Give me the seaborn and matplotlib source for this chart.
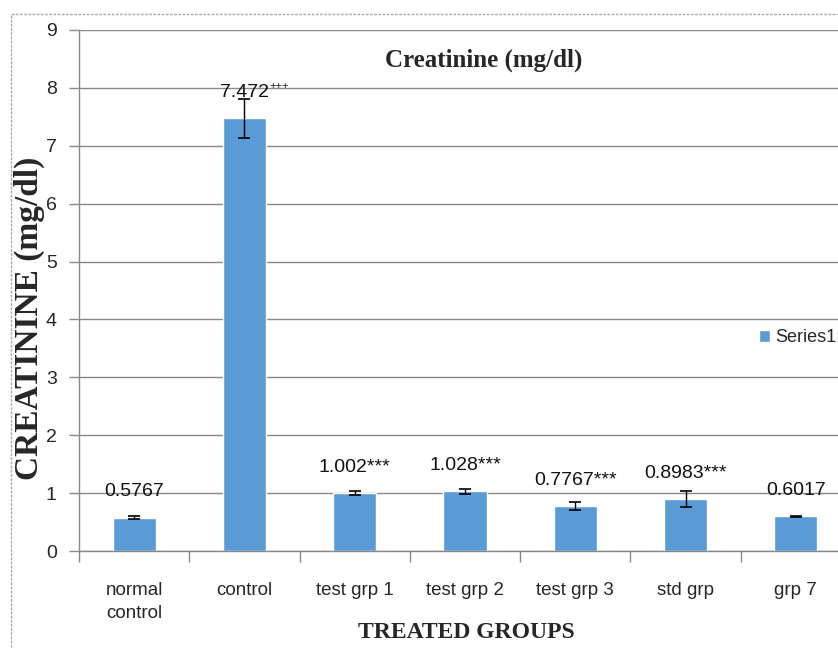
import matplotlib
matplotlib.use("Agg")
import matplotlib.pyplot as plt
import seaborn as sns
import pandas as pd
from matplotlib.patches import Rectangle

groups = ["normal\ncontrol", "control", "test grp 1", "test grp 2", "test grp 3", "std grp", "grp 7"]
values = [0.5767, 7.472, 1.002, 1.028, 0.7767, 0.8983, 0.6017]
errors = [0.03, 0.33, 0.04, 0.05, 0.075, 0.13, 0.01]
labels = ["0.5767", "7.472", "1.002***", "1.028***", "0.7767***", "0.8983***", "0.6017"]
superscripts = ["", "+++", "", "", "", "", ""]
yticks = [0, 1, 2, 3, 4, 5, 6, 7, 8, 9]

sns.set_theme(style="white")
plt.rcParams['font.family'] = ['Liberation Sans', 'DejaVu Sans']

W, H = 838, 648
fig = plt.figure(figsize=(W / 100, H / 100), dpi=100)
ax = fig.add_axes([79 / W, 1 - 551 / H, (851 - 79) / W, (551 - 30) / H])

df = pd.DataFrame({"group": groups, "value": values})
color = "#5B9BD5"
sns.barplot(data=df, x="group", y="value", color=color, width=0.39, ax=ax,
            errorbar=None, saturation=1)
ax.errorbar(range(len(values)), values, yerr=errors, fmt="none", ecolor="black",
            elinewidth=1, capsize=4.3, capthick=1.2, zorder=5)

for i, (v, lab, sup) in enumerate(zip(values, labels, superscripts)):
    t = ax.annotate(lab, (i, v), xytext=(0, 18.5), textcoords="offset points",
                    ha="center", va="center", fontsize=14, color="#111111")
    if sup:
        ax.annotate(sup, xy=(1.0, 0.62), xycoords=t, ha="left", va="bottom",
                    fontsize=8, color="#111111")

ax.set_ylim(0, 9)
ax.set_xlim(-0.5, len(groups) - 0.5)
ax.set_yticks(yticks)
ax.set_yticklabels([str(t) for t in yticks], fontsize=14)
ax.yaxis.grid(True, color="#888888", linewidth=1)
ax.set_axisbelow(True)
ax.tick_params(axis="y", length=7, color="#888888", width=1, direction="out", left=True, pad=9)
ax.tick_params(axis="x", which="major", length=0, labelsize=13.5, pad=22)
ax.set_xticks([k - 0.5 for k in range(len(groups) + 1)], minor=True)
ax.tick_params(axis="x", which="minor", length=8, color="#888888", width=1, direction="out", bottom=True)
for lbl in ax.get_xticklabels():
    lbl.set_verticalalignment("top")
    lbl.set_linespacing(1.5)

for s in ["top", "right"]:
    ax.spines[s].set_visible(False)
for s in ["left", "bottom"]:
    ax.spines[s].set_color("#888888")
    ax.spines[s].set_linewidth(1)

ax.set_xlabel("")
ax.set_ylabel("")
fig.text(29 / W, 1 - 318 / H, "CREATININE (mg/dl)", rotation=90, ha="center", va="center",
         fontsize=24, fontweight="bold", family="Liberation Serif")
fig.text(466 / W, 1 - 632 / H, "TREATED GROUPS", ha="center", va="center",
         fontsize=17, fontweight="bold", family="Liberation Serif")
fig.text(484 / W, 1 - 60 / H, "Creatinine (mg/dl)", ha="center", va="center",
         fontsize=18, fontweight="bold", family="Liberation Serif")

handle = Rectangle((0, 0), 1, 1, facecolor=color)
fig.legend(handles=[handle], labels=["Series1"], loc="center left",
           bbox_to_anchor=(752 / W, 1 - 338 / H), frameon=False, fontsize=13,
           handlelength=0.6, handleheight=0.6, handletextpad=0.3, borderaxespad=0)

fig.patches.append(Rectangle((11 / W, -0.1), 1.0, 1 - 14 / H + 0.1, transform=fig.transFigure,
                             fill=False, edgecolor="#aaaaaa", linewidth=1, linestyle=(0, (2, 1))))

fig.savefig("out.png", dpi=100)
